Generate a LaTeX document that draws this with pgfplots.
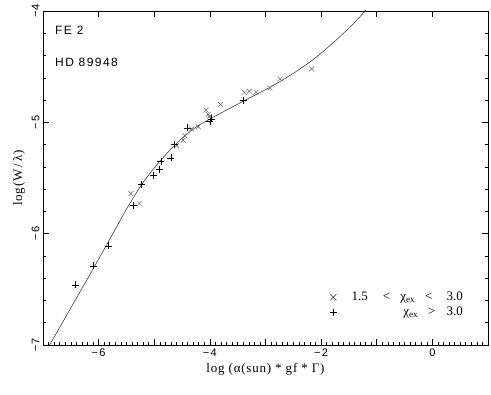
\documentclass[border=0pt]{standalone}
\usepackage{fontspec}
\setmainfont{Liberation Serif}
\newfontfamily\hersh[LetterSpace=12]{Liberation Sans}
\newfontfamily\labfont[LetterSpace=6]{Liberation Serif}
\usepackage{pgfplots}
\pgfplotsset{compat=1.18}

% lines 1.5 < chi_ex < 3.0
\pgfplotstableread{
x y
-5.42 -5.64
-5.27 -5.73
-4.60 -5.21
-4.48 -5.16
-4.45 -5.12
-4.33 -5.06
-4.21 -5.04
-4.07 -4.89
-4.03 -4.93
-4.01 -4.95
-3.81 -4.84
-3.38 -4.73
-3.29 -4.72
-3.17 -4.73
-2.92 -4.69
-2.74 -4.61
-2.17 -4.52
}\lowex

% lines chi_ex > 3.0
\pgfplotstableread{
x y
-6.41 -6.46
-6.10 -6.29
-5.83 -6.11
-5.38 -5.75
-5.23 -5.56
-5.02 -5.48
-4.90 -5.42
-4.88 -5.35
-4.70 -5.32
-4.63 -5.20
-4.41 -5.05
-4.00 -4.99
-3.97 -4.97
-3.40 -4.80
}\highex

% fitted curve of growth
\pgfplotstableread{
x y
-6.95 -7.06
-6.40 -6.58
-5.90 -6.14
-5.50 -5.78
-5.20 -5.54
-4.90 -5.35
-4.60 -5.19
-4.30 -5.06
-4.00 -4.97
-3.70 -4.89
-3.40 -4.81
-2.90 -4.68
-2.50 -4.56
-2.10 -4.42
-1.75 -4.27
-1.45 -4.13
-1.21 -4.00
-1.10 -3.93
}\cog

\begin{document}
\begin{tikzpicture}[x=1pt,y=1pt]
\useasboundingbox (-43,-50) rectangle (448,345);
\begin{axis}[
    at={(0,0)}, anchor=south west,
    scale only axis, width=445pt, height=334pt,
    xmin=-7, xmax=1, ymin=-7, ymax=-4,
    xtick={-7,-6,...,1},
    xticklabels={{},−6,{},−4,{},−2,{},0,{}},
    xtick pos=bottom,
    ytick={-7,-6,-5,-4},
    yticklabels={−7,−6,−5,−4},
    ytick pos=both,
    minor x tick num=9,
    minor y tick num=4,
    tick align=inside,
    major tick length=6pt,
    minor tick length=3pt,
    tick style={black, line width=0.5pt},
    axis line style={line width=0.6pt},
    ticklabel style={font=\hersh\fontsize{11}{13}\selectfont},
    yticklabel style={rotate=90, anchor=south},
    xlabel={log (α(sun) * gf * Γ)},
    ylabel={log(W\,/\,λ)},
    label style={font=\labfont\fontsize{13}{15}\selectfont},
    legend style={draw=none, fill=none, at={(rel axis cs:0.955,0.07)},
        anchor=south east, font=\fontsize{13}{15}\selectfont, row sep=1pt},
    legend cell align=right,
]
\addplot[only marks, mark=x, mark size=3.5pt, black!60, line width=0.5pt,
    legend image post style={mark size=4.5pt, black!80}] table {\lowex};
\addlegendentry{\hspace{13pt}1.5\hspace{15pt}<\hspace{10pt}χ\textsubscript{ex}\hspace{10pt}<\hspace{14pt}3.0}
\addplot[only marks, mark=+, mark size=3.5pt, black, line width=0.7pt] table {\highex};
\addlegendentry{χ\textsubscript{ex}\hspace{10pt}>\hspace{11pt}3.0}
\addplot[forget plot, black!85, line width=0.5pt, smooth, tension=0.5] table {\cog};

\node[anchor=west, inner sep=0pt, font=\hersh\fontsize{12}{14}\selectfont]
    at (rel axis cs:0.027,0.943) {FE 2};
\node[anchor=west, inner sep=0pt, font=\hersh\fontsize{12}{14}\selectfont]
    at (rel axis cs:0.027,0.847) {HD 89948};
\end{axis}
% top axis: major ticks only
\begin{axis}[
    at={(0,0)}, anchor=south west,
    scale only axis, width=445pt, height=334pt,
    xmin=-7, xmax=1, ymin=-7, ymax=-4,
    xtick={-7,-6,...,1}, xticklabels={},
    xtick pos=top, ytick=\empty,
    tick align=inside, major tick length=6pt,
    tick style={black, line width=0.5pt},
    axis line style={line width=0.6pt},
]
\end{axis}
\end{tikzpicture}
\end{document}
